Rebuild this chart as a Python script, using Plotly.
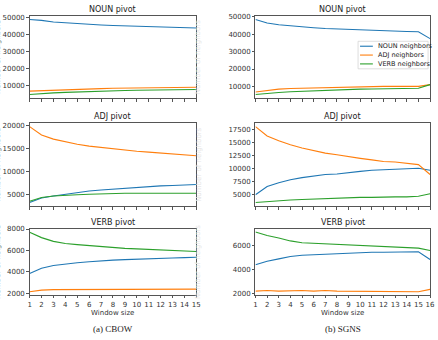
import plotly.graph_objects as go

W, H = 438, 340

# ---------------- data ----------------
cbow_x = list(range(1, 16))
sgns_x = list(range(1, 17))

cbow_noun_noun = [49000, 48500, 47500, 47000, 46500, 46200, 45800, 45500, 45300, 45000, 44800, 44600, 44400, 44200, 44000]
cbow_noun_adj = [6700, 7000, 7400, 7700, 7900, 8100, 8200, 8400, 8500, 8600, 8700, 8800, 8850, 8900, 9000]
cbow_noun_verb = [4700, 5300, 5700, 6000, 6300, 6500, 6700, 6900, 7100, 7200, 7300, 7400, 7500, 7600, 7700]

cbow_adj_noun = [3300, 4300, 4700, 5100, 5500, 5800, 6000, 6200, 6400, 6600, 6800, 6900, 7000, 7100, 7200]
cbow_adj_adj = [19700, 17900, 17000, 16400, 15900, 15500, 15200, 14900, 14600, 14400, 14200, 14000, 13800, 13600, 13400]
cbow_adj_verb = [3600, 4400, 4700, 4900, 5000, 5100, 5200, 5200, 5300, 5300, 5300, 5300, 5400, 5300, 5300]

cbow_verb_noun = [3850, 4350, 4600, 4750, 4850, 4950, 5050, 5100, 5150, 5200, 5250, 5270, 5300, 5330, 5370]
cbow_verb_adj = [2150, 2300, 2350, 2350, 2350, 2350, 2400, 2400, 2400, 2400, 2400, 2400, 2400, 2400, 2400]
cbow_verb_verb = [7700, 7200, 6850, 6650, 6550, 6450, 6350, 6280, 6200, 6150, 6100, 6050, 6000, 5950, 5900]

sgns_noun_noun = [48500, 46500, 45500, 44800, 44300, 43800, 43300, 43000, 42700, 42400, 42200, 42000, 41800, 41600, 41500, 37500]
sgns_noun_adj = [6800, 7800, 8400, 8800, 9000, 9200, 9400, 9600, 9700, 9800, 9900, 10000, 10000, 10000, 10000, 11000]
sgns_noun_verb = [5300, 6000, 6500, 6900, 7200, 7500, 7800, 8000, 8200, 8400, 8500, 8600, 8700, 8800, 8900, 11000]

sgns_adj_noun = [4900, 6500, 7200, 7800, 8200, 8500, 8800, 8900, 9200, 9400, 9600, 9700, 9800, 9900, 10000, 9600]
sgns_adj_adj = [18000, 16200, 15300, 14500, 13900, 13400, 12900, 12600, 12200, 11900, 11600, 11300, 11200, 11000, 10700, 8800]
sgns_adj_verb = [3400, 3600, 3800, 3900, 4000, 4100, 4200, 4200, 4300, 4400, 4400, 4500, 4500, 4500, 4600, 5100]

sgns_verb_noun = [4400, 4700, 4900, 5100, 5200, 5250, 5300, 5330, 5370, 5400, 5450, 5450, 5450, 5470, 5500, 4850]
sgns_verb_adj = [2200, 2250, 2200, 2250, 2250, 2200, 2250, 2200, 2200, 2150, 2150, 2200, 2200, 2200, 2150, 2350]
sgns_verb_verb = [7150, 6850, 6650, 6400, 6250, 6200, 6150, 6100, 6050, 6000, 5950, 5900, 5880, 5850, 5800, 5600]

series_names = ["NOUN neighbors", "ADJ neighbors", "VERB neighbors"]
panel_titles = ["NOUN pivot", "ADJ pivot", "VERB pivot"]

ytick_sets = {
    (0, 0): [10000, 20000, 30000, 40000, 50000],
    (1, 0): [5000, 10000, 15000, 20000],
    (2, 0): [2000, 4000, 6000, 8000],
    (0, 1): [10000, 20000, 30000, 40000, 50000],
    (1, 1): [5000, 7500, 10000, 12500, 15000, 17500],
    (2, 1): [2000, 4000, 6000],
}

panels = {
    (0, 0): (cbow_x, [cbow_noun_noun, cbow_noun_adj, cbow_noun_verb]),
    (1, 0): (cbow_x, [cbow_adj_noun, cbow_adj_adj, cbow_adj_verb]),
    (2, 0): (cbow_x, [cbow_verb_noun, cbow_verb_adj, cbow_verb_verb]),
    (0, 1): (sgns_x, [sgns_noun_noun, sgns_noun_adj, sgns_noun_verb]),
    (1, 1): (sgns_x, [sgns_adj_noun, sgns_adj_adj, sgns_adj_verb]),
    (2, 1): (sgns_x, [sgns_verb_noun, sgns_verb_adj, sgns_verb_verb]),
}

colors = ["#1f77b4", "#ff7f0e", "#2ca02c"]

# ---------------- layout geometry ----------------
def px_x(a, b):
    return [a / W, b / W]

def px_y(top, bottom):
    return [1 - bottom / H, 1 - top / H]

col_dom = [px_x(28, 197), px_x(257, 434)]
row_dom = [px_y(13, 97), px_y(122, 207), px_y(230, 297)]

fig = go.Figure()
layout = dict(
    width=W, height=H,
    margin=dict(l=0, r=0, t=0, b=0),
    paper_bgcolor="white", plot_bgcolor="white",
    font=dict(family="DejaVu Sans", size=7, color="#333333"),
    showlegend=False,
)
annotations = []
shapes = []

axis_style = dict(
    showline=True, mirror=True, linecolor="#555555", linewidth=0.8,
    ticks="outside", ticklen=2.5, tickwidth=0.6, tickcolor="#555555",
    showgrid=False, zeroline=False,
    tickfont=dict(size=7, family="DejaVu Sans", color="#333333"),
)

idx = 0
for (r, c), (xs, ys_list) in panels.items():
    idx += 1
    xa = "xaxis" if idx == 1 else f"xaxis{idx}"
    ya = "yaxis" if idx == 1 else f"yaxis{idx}"
    xr = "x" if idx == 1 else f"x{idx}"
    yr = "y" if idx == 1 else f"y{idx}"
    for k, ys in enumerate(ys_list):
        fig.add_trace(go.Scatter(
            x=xs, y=ys, mode="lines", name=series_names[k],
            line=dict(color=colors[k], width=1.1),
            xaxis=xr, yaxis=yr, showlegend=False,
        ))
    allv = [v for ys in ys_list for v in ys]
    lo, hi = min(allv), max(allv)
    pad = (hi - lo) * 0.05
    top = max(hi + pad, ytick_sets[(r, c)][-1] * 1.001) if (r, c) == (2, 0) else hi + pad
    layout[xa] = dict(
        axis_style, domain=col_dom[c], anchor=yr,
        range=[xs[0], xs[-1]], tickvals=xs,
        showticklabels=(r == 2),
    )
    layout[ya] = dict(
        axis_style, domain=row_dom[r], anchor=xr,
        range=[lo - pad, top], tickvals=ytick_sets[(r, c)],
        ticktext=[str(v) for v in ytick_sets[(r, c)]],
    )
    dx = col_dom[c]
    dy = row_dom[r]
    annotations.append(dict(
        text=panel_titles[r], x=(dx[0] + dx[1]) / 2, y=dy[1],
        xref="paper", yref="paper", xanchor="center", yanchor="bottom",
        yshift=0, showarrow=False,
        font=dict(size=8, family="DejaVu Sans", color="#222222"),
    ))
    # partially visible y-axis titles (cut at the page edge, as in the source)
    annotations.append(dict(
        text="Number of neighbors", x=(-4 if c == 0 else 199) / W,
        y=(dy[0] + dy[1]) / 2, xref="paper", yref="paper",
        xanchor="center", yanchor="middle", textangle=-90, showarrow=False,
        font=dict(size=7, family="DejaVu Sans",
                  color="#777777" if c == 0 else "#e6e6e6"),
    ))

for c, cap in enumerate(["(a) CBOW", "(b) SGNS"]):
    dx = col_dom[c]
    annotations.append(dict(
        text="Window size", x=(dx[0] + dx[1]) / 2, y=1 - 316 / H,
        xref="paper", yref="paper", xanchor="center", yanchor="middle",
        showarrow=False, font=dict(size=7, family="DejaVu Sans", color="#333333"),
    ))
    annotations.append(dict(
        text=cap, x=(dx[0] + dx[1]) / 2, y=1 - 332 / H,
        xref="paper", yref="paper", xanchor="center", yanchor="middle",
        showarrow=False, font=dict(size=9, family="Liberation Serif", color="#222222"),
    ))

# ---------------- legend (compact, matplotlib-like) ----------------
lx0, lx1, ly0, ly1 = 361, 432, 39, 67
shapes.append(dict(
    type="rect", xref="paper", yref="paper",
    x0=lx0 / W, x1=lx1 / W, y0=1 - ly1 / H, y1=1 - ly0 / H,
    line=dict(color="#d0d0d0", width=0.7), fillcolor="rgba(255,255,255,0.85)",
    layer="above",
))
for k, name in enumerate(series_names):
    yy = 1 - (44 + 9 * k) / H
    shapes.append(dict(
        type="line", xref="paper", yref="paper",
        x0=363 / W, x1=376 / W, y0=yy, y1=yy,
        line=dict(color=colors[k], width=1.1), layer="above",
    ))
    annotations.append(dict(
        text=name, x=379 / W, y=yy, xref="paper", yref="paper",
        xanchor="left", yanchor="middle", showarrow=False,
        font=dict(size=6.5, family="DejaVu Sans", color="#222222"),
    ))

layout["annotations"] = annotations
layout["shapes"] = shapes
fig.update_layout(**layout)
fig.write_html("out.html")
